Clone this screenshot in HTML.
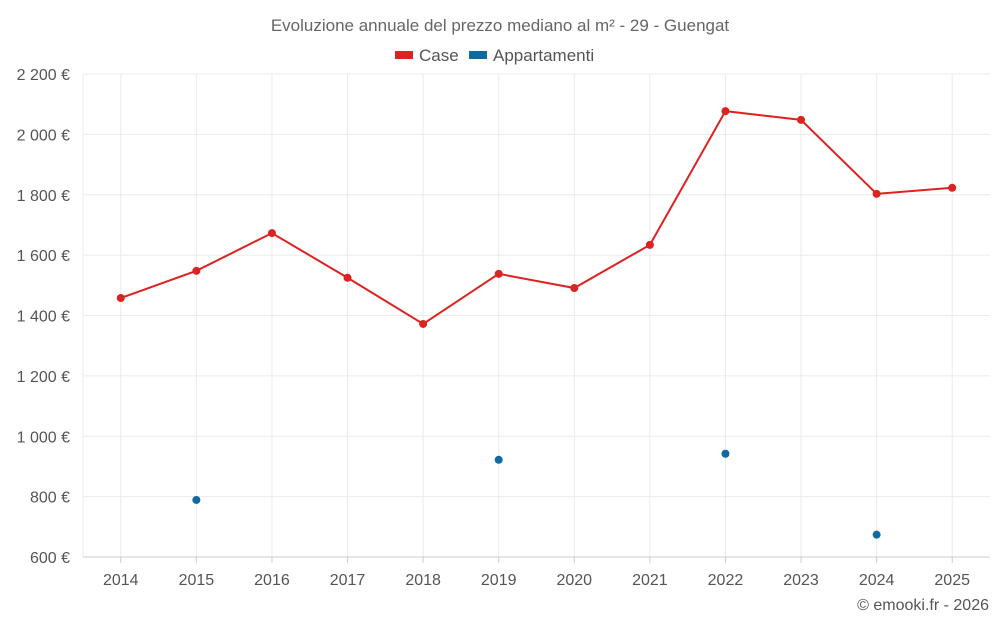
<!DOCTYPE html>
<html><head><meta charset="utf-8">
<style>
html,body{margin:0;padding:0;background:#fff;}
body{width:1000px;height:625px;overflow:hidden;font-family:"Liberation Sans",sans-serif;}
svg text{font-family:"Liberation Sans",sans-serif;}
</style></head>
<body>
<svg id="chart" width="1000" height="625">
<text x="500" y="31" text-anchor="middle" font-size="17" fill="#666">Evoluzione annuale del prezzo mediano al m² - 29 - Guengat</text>
<g>
<g><rect x="395" y="51" width="18" height="8" fill="#dd2222"/><text x="419" y="61" font-size="17" fill="#555">Case</text></g>
<g><rect x="469" y="51" width="18" height="8" fill="#0e6aa0"/><text x="493" y="61" font-size="17" fill="#555">Appartamenti</text></g>
</g>
<g id="grid"></g><g id="axes"></g><g id="series"></g>
<text x="989" y="610" text-anchor="end" font-size="16" fill="#555">© emooki.fr - 2026</text>
</svg>
<script>
const years=[2014,2015,2016,2017,2018,2019,2020,2021,2022,2023,2024,2025];
const caseValues=[1458,1548,1673,1525,1372,1538,1491,1634,2077,2048,1803,1823];
const appValues=[null,789,null,null,null,922,null,null,942,null,674,null];
const yTicks=[600,800,1000,1200,1400,1600,1800,2000,2200];
const L=83,R=990,T=74,B=557,yMin=600,yMax=2200;
const NS="http://www.w3.org/2000/svg";
const step=(R-L)/years.length;
function xs(i){return L+step*(i+0.5);}
function ys(v){return B-(v-yMin)/(yMax-yMin)*(B-T);}
function fmt(v){return v>=1000?Math.floor(v/1000)+" "+String(v%1000).padStart(3,"0")+" €":v+" €";}
function mk(tag,a,parent){const e=document.createElementNS(NS,tag);for(const k in a)e.setAttribute(k,a[k]);parent.appendChild(e);return e;}
const grid=document.getElementById('grid'),axes=document.getElementById('axes'),ser=document.getElementById('series');
yTicks.forEach(v=>{
 const l=mk('line',{x1:L,x2:R,y1:ys(v),y2:ys(v),stroke:'#ebebeb'},grid);
 
 
 const t=mk('text',{x:70,y:ys(v)+6,'text-anchor':'end','font-size':16,fill:'#555'},axes);
 t.textContent=fmt(v);
 
 
});
const lg=mk('line',{x1:L,x2:L,y1:T,y2:B,stroke:'#ebebeb'},grid);


years.forEach((y,i)=>{
 const l=mk('line',{x1:xs(i),x2:xs(i),y1:T,y2:B,stroke:'#ebebeb'},grid);
 
 
});
const ax=mk('line',{x1:L,x2:R,y1:B,y2:B,stroke:'#ccc'},axes);


years.forEach((y,i)=>{
 const tk=mk('line',{x1:xs(i),x2:xs(i),y1:B,y2:B+6,stroke:'#ccc'},axes);
 
 
 const t=mk('text',{x:xs(i),y:585,'text-anchor':'middle','font-size':16,fill:'#555'},axes);
 t.textContent=y;
 
 
});
const pts=caseValues.map((v,i)=>xs(i)+","+ys(v)).join(" ");
const pl=mk('polyline',{points:pts,fill:'none',stroke:'#dd2222','stroke-width':2},ser);


caseValues.forEach((v,i)=>{
 const c=mk('circle',{cx:xs(i),cy:ys(v),r:4,fill:'#dd2222'},ser);
 
 
});
appValues.forEach((v,i)=>{
 if(v==null)return;
 const c=mk('circle',{cx:xs(i),cy:ys(v),r:4,fill:'#0e6aa0'},ser);
 
 
});
</script>
</body></html>
